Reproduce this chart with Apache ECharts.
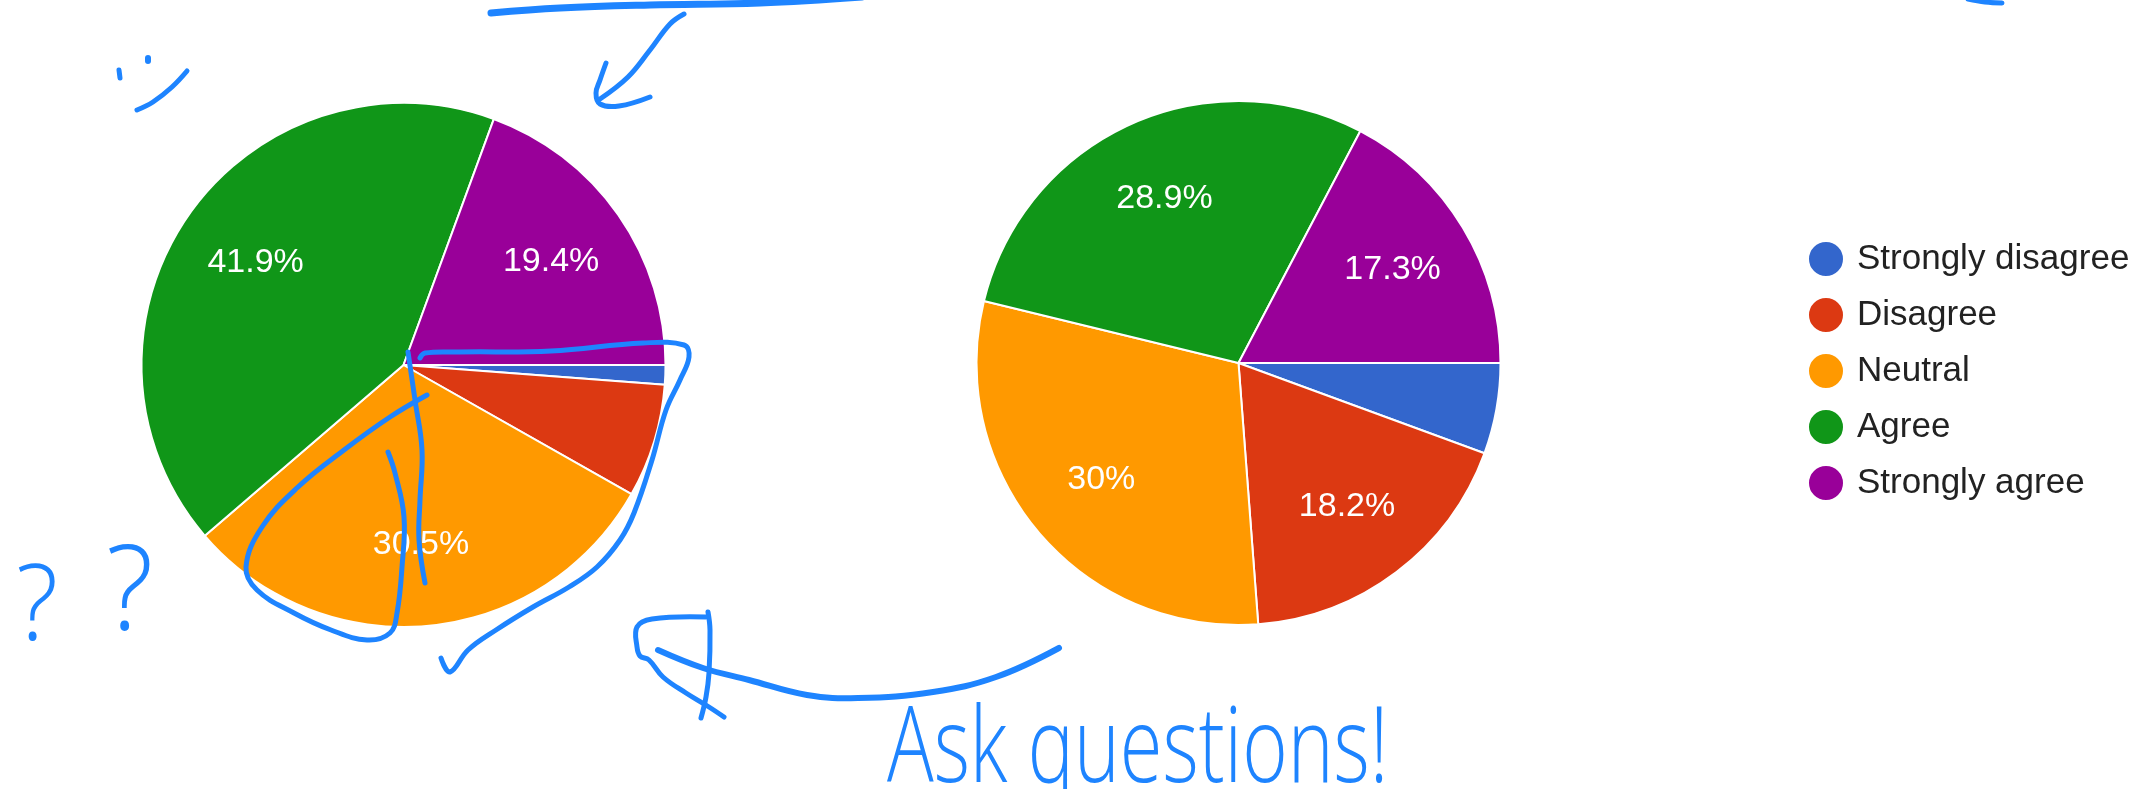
<!DOCTYPE html>
<html>
<head>
<meta charset="utf-8">
<script src="https://cdn.jsdelivr.net/npm/echarts@6/dist/echarts.min.js"></script>
<style>
  html, body { margin: 0; padding: 0; background: #ffffff; }
  #chart { width: 2141px; height: 789px; }
</style>
</head>
<body>
<div id="chart"></div>
<script>
// ---- data ----
const categories = ['Strongly disagree', 'Disagree', 'Neutral', 'Agree', 'Strongly agree'];
const leftValues = [1.2, 7.0, 30.5, 41.9, 19.4];
const rightValues = [5.6, 18.2, 30, 28.9, 17.3];
const sliceColors = ['#3366cc', '#dc3912', '#ff9900', '#109618', '#990099'];

// ---- hand-drawn annotation strokes (overlay ink) ----
const ink = '#1e84ff';
const strokes = [
  { w: 7, pts: [[491,13],[560,8],[650,5],[760,3],[862,-3]] },
  { w: 5, pts: [[1968,-1],[1985,2],[2002,3]] },
  { w: 5, pts: [[684,14],[670,24],[650,50],[628,77],[600,99]] },
  { w: 5, pts: [[606,63],[600,80],[596,93],[600,104],[619,106],[650,97]] },
  { w: 5, pts: [[119,70],[120,78]] },
  { w: 6, pts: [[148,58],[148,61]] },
  { w: 5, pts: [[187,71],[172,87],[153,102],[137,110]] },
  { w: 5, pts: [[441,658],[450,672],[468,650],[496,630],[533,607],[569,587],[597,567],[620,540],[634,513],[652,460],[666,410],[680,380],[689,357],[684,345],[643,343],[551,351],[459,352],[425,353],[420,358]] },
  { w: 5, pts: [[427,395],[390,417],[344,450],[298,487],[262,527],[246,567],[257,590],[294,613],[331,630],[367,640],[390,633],[397,613],[402,567],[404,517],[395,473],[388,452]] },
  { w: 5, pts: [[408,352],[415,400],[422,450],[420,500],[419,540],[425,583]] },
  { w: 6, pts: [[1059,648],[996,677],[933,692],[858,698],[807,695],[749,680],[703,668],[658,650]] },
  { w: 5, pts: [[708,612],[710,630],[709,673],[706,697],[701,718]] },
  { w: 5, pts: [[706,617],[652,619],[637,627],[637,647],[640,656],[649,660],[663,677],[686,693],[709,707],[724,717]] }
];

const R = 262;
const labelFont = 'Liberation Sans, Arial, sans-serif';

function pieSeries(values, center) {
  const data = values.map((v, i) => ({ name: categories[i], value: v, itemStyle: { color: sliceColors[i] } }));
  const labelData = values.map((v, i) => ({ name: categories[i], value: v }));
  return [
    {
      type: 'pie',
      center: center,
      radius: R,
      startAngle: 0,
      clockwise: true,
      animation: false,
      silent: true,
      label: { show: false },
      labelLine: { show: false },
      itemStyle: { borderColor: '#ffffff', borderWidth: 2 },
      emphasis: { disabled: true },
      data: data
    },
    {
      type: 'pie',
      center: center,
      radius: [Math.round(R * 0.35), R],
      startAngle: 0,
      clockwise: true,
      animation: false,
      silent: true,
      itemStyle: { color: 'rgba(0,0,0,0)', borderWidth: 0 },
      emphasis: { disabled: true },
      labelLine: { show: false },
      label: {
        show: true,
        position: 'inside',
        color: '#ffffff',
        fontSize: 34,
        fontFamily: labelFont,
        formatter: p => (p.value >= 10 ? p.value + '%' : '')
      },
      data: labelData
    }
  ];
}

const graphics = strokes.map(s => ({
  type: 'polyline',
  silent: true,
  z: 100,
  shape: { points: s.pts, smooth: 0.4 },
  style: { stroke: ink, lineWidth: s.w, fill: null, lineCap: 'round', lineJoin: 'round' }
}));
graphics.push(
  { type: 'text', z: 100, silent: true, x: 16, y: 610, scaleX: 0.95,
    style: { text: '?', fill: ink, fontSize: 105, fontFamily: 'Open Sans, Liberation Sans', fontWeight: 300, align: 'left', verticalAlign: 'middle' } },
  { type: 'text', z: 100, silent: true, x: 106, y: 596, scaleX: 0.95,
    style: { text: '?', fill: ink, fontSize: 118, fontFamily: 'Open Sans, Liberation Sans', fontWeight: 300, align: 'left', verticalAlign: 'middle' } },
  { type: 'text', z: 100, silent: true, x: 887, y: 752, scaleX: 0.74,
    style: { text: 'Ask questions!', fill: ink, fontSize: 105, fontFamily: 'Open Sans, Liberation Sans', fontWeight: 300, align: 'left', verticalAlign: 'middle' } }
);

const chart = echarts.init(document.getElementById('chart'), null, { renderer: 'canvas' });
chart.setOption({
  backgroundColor: '#ffffff',
  animation: false,
  legend: {
    orient: 'vertical',
    left: 1802,
    top: 235,
    icon: 'circle',
    itemWidth: 52,
    itemHeight: 36,
    itemGap: 18,
    selectedMode: false,
    textStyle: { fontSize: 35, lineHeight: 36, color: '#222222', fontFamily: labelFont },
    data: categories.map((c, i) => ({ name: c, itemStyle: { color: sliceColors[i] } }))
  },
  series: [].concat(pieSeries(leftValues, [403.5, 365]), pieSeries(rightValues, [1238.5, 363])),
  graphic: graphics
});
</script>
</body>
</html>
